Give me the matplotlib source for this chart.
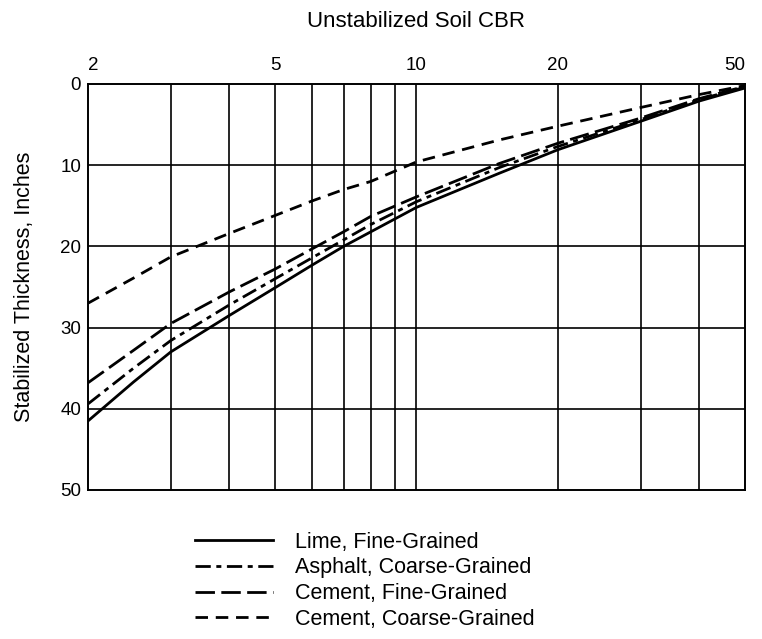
import matplotlib.pyplot as plt
import matplotlib.ticker as mticker

plt.rcParams['font.family'] = ['Liberation Sans', 'DejaVu Sans']

cbr = [2, 2.5, 3, 4, 5, 6, 7, 8, 10, 15, 20, 30, 40, 50]

lime_fine = [41.5, 36.7, 33.0, 28.5, 25.1, 22.3, 20.0, 18.2, 15.2, 11.0, 8.1, 4.6, 2.1, 0.5]
asphalt_coarse = [39.4, 35.0, 31.6, 27.2, 24.0, 21.4, 19.2, 17.3, 14.5, 10.3, 7.7, 4.4, 1.9, 0.4]
cement_fine = [36.8, 32.8, 29.5, 25.6, 22.8, 20.3, 18.2, 16.3, 13.9, 9.8, 7.3, 4.2, 1.8, 0.3]
cement_coarse = [27.0, 23.9, 21.3, 18.4, 16.2, 14.4, 13.0, 12.0, 9.6, 6.9, 5.2, 2.9, 1.3, 0.2]

top_ticks = [2, 5, 10, 20, 50]
grid_x = [3, 4, 5, 6, 7, 8, 9, 10, 20, 30, 40]
grid_y = [10, 20, 30, 40]
y_ticks = [0, 10, 20, 30, 40, 50]

labels = ["Lime, Fine-Grained", "Asphalt, Coarse-Grained",
          "Cement, Fine-Grained", "Cement, Coarse-Grained"]

fig = plt.figure(figsize=(7.62, 6.39), dpi=100)
ax = fig.add_axes([0.1155, 0.2332, 0.862, 0.6354])

lw = 2.0
l1, = ax.plot(cbr, lime_fine, color="black", lw=lw, linestyle="-")
l2, = ax.plot(cbr, asphalt_coarse, color="black", lw=lw, dashes=(5.5, 2, 1.8, 2))
l3, = ax.plot(cbr, cement_fine, color="black", lw=lw, dashes=(7, 2.3))
l4, = ax.plot(cbr, cement_coarse, color="black", lw=lw, dashes=(4.5, 2.8))

ax.set_xscale("log")
ax.set_xlim(2, 50)
ax.set_ylim(50, 0)

# grid drawn by hand so that only the chart's lines appear
for gx in grid_x:
    ax.axvline(gx, color="black", lw=1.2, zorder=1)
for gy in grid_y:
    ax.axhline(gy, color="black", lw=1.2, zorder=1)

ax.xaxis.tick_top()
ax.set_xticks(top_ticks)
ax.xaxis.set_major_formatter(mticker.FixedFormatter([str(t) for t in top_ticks]))
ax.xaxis.set_minor_locator(mticker.NullLocator())
ax.tick_params(axis="x", length=0, pad=7, labelsize=13.5)
xl = ax.get_xticklabels()
xl[0].set_horizontalalignment("left")
xl[-1].set_horizontalalignment("right")
ax.set_yticks(y_ticks)
ax.tick_params(axis="y", length=0, pad=5, labelsize=13.5)

for sp in ax.spines.values():
    sp.set_linewidth(1.4)

ax.set_xlabel("Unstabilized Soil CBR", fontsize=16, labelpad=22)
ax.xaxis.set_label_position("top")
ax.set_ylabel("Stabilized Thickness, Inches", fontsize=15.5, labelpad=18)

fig.legend([l1, l2, l3, l4], labels, loc="upper left",
           bbox_to_anchor=(0.256, 0.168), frameon=False, fontsize=15.5,
           handlelength=3.6, handletextpad=1.05, labelspacing=0.22,
           borderaxespad=0, borderpad=0)

fig.savefig("out.png", dpi=100)
